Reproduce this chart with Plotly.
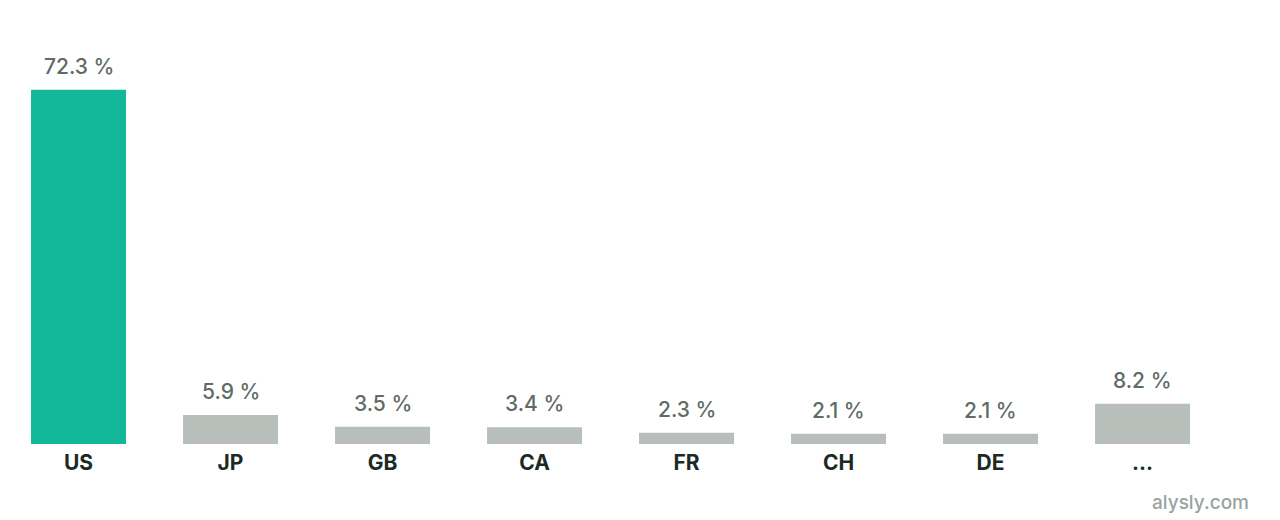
import plotly.graph_objects as go

countries = ["US", "JP", "GB", "CA", "FR", "CH", "DE", "..."]
shares = [72.3, 5.9, 3.5, 3.4, 2.3, 2.1, 2.1, 8.2]
colors = ["#13b89a"] + ["#b8bfbb"] * 7

fig = go.Figure(go.Bar(
    x=list(range(len(countries))), y=shares,
    marker=dict(color=colors, line=dict(width=0)),
    width=0.625, hoverinfo="skip",
))
# value labels a bit further above the bars than plotly's default
labels = [dict(x=i, y=v, text=f"{v} %", showarrow=False, yanchor="bottom", yshift=9,
               font=dict(family="Inter", size=21, color="#5f6b66", weight=500))
          for i, v in enumerate(shares)]
labels.append(dict(text="alysly.com", xref="paper", yref="paper", x=0.971, y=-0.135,
                   xanchor="right", yanchor="middle", showarrow=False,
                   font=dict(family="Inter", size=19, color="#9aa39f", weight=500)))
fig.update_layout(
    width=1280, height=520,
    margin=dict(l=0, r=0, t=0, b=84),
    plot_bgcolor="white", paper_bgcolor="white",
    showlegend=False,
    xaxis=dict(showgrid=False, showline=False, ticks="", automargin=False, zeroline=False,
               range=[-0.464, 7.957], tickmode="array", ticklabelstandoff=4,
               tickvals=list(range(len(countries))), ticktext=countries,
               tickfont=dict(family="Inter", size=21, color="#1c2a24", weight="bold")),
    yaxis=dict(visible=False, range=[0, 89.0], automargin=False),
    annotations=labels,
)
fig.write_html("out.html")
